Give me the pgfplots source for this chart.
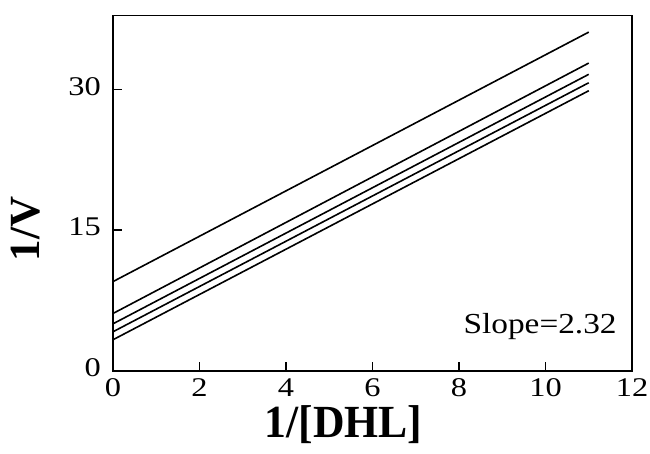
\documentclass[border=0pt]{standalone}
\usepackage{pgfplots}
\pgfplotsset{compat=1.18}
\usepackage{fontspec}
\setmainfont{Liberation Serif}
\newfontfamily\tickfont[FakeStretch=1.2]{Liberation Serif}
\newfontfamily\slopefont[FakeStretch=1.15]{Liberation Serif}
\newfontfamily\labfont[FakeStretch=0.95]{Liberation Serif}
\begin{document}
\begin{tikzpicture}
\path[use as bounding box] (-113pt,-82.3pt) rectangle (537pt,370.7pt);
\begin{axis}[
  at={(0pt,0pt)}, anchor=origin,
  scale only axis, width=519pt, height=355pt,
  xmin=0, xmax=12, ymin=0, ymax=37.85,
  xtick={0,2,4,6,8,10,12}, ytick={0,15,30},
  tick pos=left,
  tick align=inside, major tick length=9pt,
  tick style={line width=1.1pt, black},
  axis line style={line width=1.6pt},
  /pgf/number format/assume math mode=true,
  tick label style={font=\tickfont\fontsize{27}{29}\selectfont, inner sep=0pt},
  xticklabel style={anchor=north, yshift=-8pt},
  yticklabel style={anchor=east, xshift=-12pt, yshift=3pt},
  xlabel={1/[DHL]},
  ylabel={1/V},
  xlabel style={font=\labfont\bfseries\fontsize{46}{48}\selectfont, at={(axis cs:5.33,0)}, anchor=base, yshift=-67pt, inner sep=0pt},
  ylabel style={font=\bfseries\fontsize{43}{45}\selectfont, at={(axis cs:-2.01,15.1)}, anchor=center, inner sep=0pt},
  clip=false,
]
\addplot[black, line width=1.6pt] coordinates {(0,9.5) (11,36.1)};
\addplot[black, line width=1.6pt] coordinates {(0,6.1) (11,32.8)};
\addplot[black, line width=1.6pt] coordinates {(0,5.0) (11,31.6)};
\addplot[black, line width=1.6pt] coordinates {(0,4.15) (11,30.7)};
\addplot[black, line width=1.6pt] coordinates {(0,3.3) (11,29.85)};
\node[anchor=base east, font=\slopefont\fontsize{29}{31}\selectfont, inner sep=0pt] at (axis cs:11.65,4.0) {Slope=2.32};
\end{axis}
\end{tikzpicture}
\end{document}
